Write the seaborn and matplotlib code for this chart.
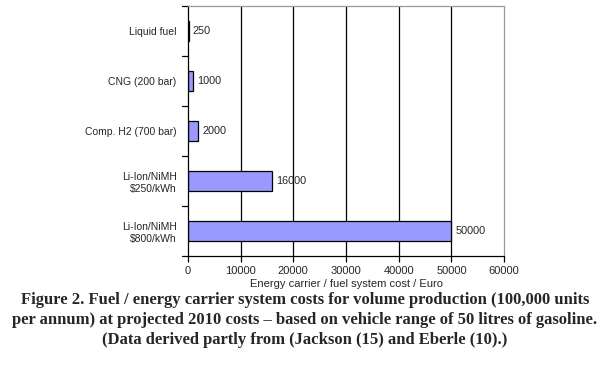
import pandas as pd
import seaborn as sns
import matplotlib.pyplot as plt

# Dados
categorias = ['Liquid fuel', 'CNG (200 bar)', 'Comp. H2 (700 bar)',
              'Li-Ion/NiMH\n$250/kWh', 'Li-Ion/NiMH\n$800/kWh']
custos = [250, 1000, 2000, 16000, 50000]
rotulos = ['250', '1000', '2000', '16000', '50000']
ticks_x = [0, 10000, 20000, 30000, 40000, 50000, 60000]

df = pd.DataFrame({'Sistema': categorias, 'Custo': custos})

sns.set_style('white')
plt.rcParams['font.family'] = ['Liberation Sans', 'DejaVu Sans']

fig = plt.figure(figsize=(6.06, 3.67), dpi=100)
ax = fig.add_axes([0.310, 0.302, 0.522, 0.682])

sns.barplot(data=df, x='Custo', y='Sistema', color='#9999ff', saturation=1,
            edgecolor='black', linewidth=0.9, width=0.4, ax=ax)

for i, (v, t) in enumerate(zip(custos, rotulos)):
    ax.text(v + 700, i, t, va='center', ha='left', fontsize=7.8)

ax.set_xlim(0, 60000)
ax.set_ylim(4.5, -0.5)
ax.set_xticks(ticks_x)
ax.set_xticklabels([str(t) for t in ticks_x], fontsize=8)
ax.tick_params(axis='y', labelsize=7.5, length=0, pad=8)
ax.tick_params(axis='x', length=4, width=0.9, pad=3, bottom=True, color='black')
for b in [-0.5, 0.5, 1.5, 2.5, 3.5, 4.5]:
    ax.plot([-1100, 0], [b, b], color='black', lw=0.9, clip_on=False)
for t in ticks_x[1:-1]:
    ax.axvline(t, color='black', lw=0.9, zorder=0)
ax.set_ylabel('')
ax.set_xlabel('Energy carrier / fuel system cost / Euro', fontsize=8, labelpad=2)

ax.spines['left'].set_color('black')
ax.spines['bottom'].set_color('black')
ax.spines['top'].set_color('#999999')
ax.spines['right'].set_color('#999999')
for s in ax.spines.values():
    s.set_linewidth(0.9)

legenda = ('Figure 2. Fuel / energy carrier system costs for volume production (100,000 units\n'
           'per annum) at projected 2010 costs \u2013 based on vehicle range of 50 litres of gasoline.\n'
           '(Data derived partly from (Jackson (15) and Eberle (10).)')
fig.text(0.503, 0.203, legenda, ha='center', va='top', fontsize=12,
         family=['Liberation Serif', 'DejaVu Serif'], fontweight='bold', linespacing=1.3)

fig.savefig('out.png', dpi=100)
